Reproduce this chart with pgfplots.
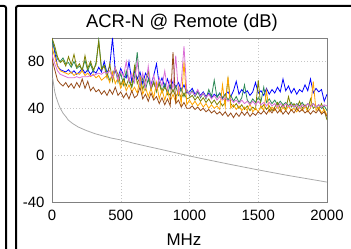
\documentclass[border=0pt]{standalone}
\usepackage{pgfplots}
\usepackage{pgfplotstable}
\pgfplotsset{compat=1.18}
\usepackage{fontspec}
\setmainfont{Liberation Sans}
\definecolor{cblue}{RGB}{0,0,255}
\definecolor{cgreen}{RGB}{46,139,87}
\definecolor{colive}{RGB}{128,128,0}
\definecolor{corange}{RGB}{255,165,0}
\definecolor{cviolet}{RGB}{218,112,214}
\definecolor{cbrown}{RGB}{150,75,25}
\definecolor{cgray}{RGB}{170,170,170}
\pgfplotstableread{
f blue green olive orange violet brown
0 100 98 100 92 86 82
20 88 90 93 84 78 73
40 76 82 84 76 72 64
60 73 80 79 72 69 61
80 72 83 81 71 68 59
100 71 78 76 70 67 62
120 73 79 84 69 66 58
140 70 75 77 71 66 61
160 72 80 86 68 66 57
180 69 74 75 70 67 62
200 71 76 78 69 66 58
220 74 73 72 72 67 65
240 70 81 85 68 67 57
260 73 72 74 70 67 63
280 69 78 80 67 68 55
300 72 71 73 69 68 58
320 70 79 77 66 69 54
340 75 98 97 68 70 56
360 71 74 73 64 69 52
380 80 77 76 66 71 55
400 70 70 66 68 70 51
420 76 64 78 62 72 56
440 100 68 63 71 66 52
460 72 75 74 61 75 58
480 66 62 69 66 64 51
500 74 70 60 57 72 54
520 68 60 65 63 67 49
540 66 72 59 55 80 53
560 80 63 66 60 63 48
580 63 58 58 54 70 55
600 72 66 76 58 62 49
620 65 88 61 53 80 51
640 71 59 67 66 60 58
660 61 66 56 52 70 48
680 70 56 64 58 58 52
700 66 65 72 50 76 46
720 60 57 56 57 58 53
740 68 63 62 49 68 47
760 78 54 55 62 57 50
780 60 62 61 48 66 44
800 66 55 53 56 59 49
820 58 61 58 47 72 43
840 65 52 54 55 56 48
860 57 60 51 46 64 42
880 63 54 56 52 57 88
900 58 59 50 45 85 44
920 62 51 54 58 53 47
940 55 57 49 44 62 41
960 60 50 53 80 93 45
980 53 56 48 43 55 40
1000 54 51 49 47 52 40
1020 57 55 51 43 54 42
1040 52 50 47 46 51 39
1060 55 54 50 42 56 41
1080 51 49 46 45 50 38
1100 54 53 49 41 53 40
1120 50 48 45 44 49 37
1140 53 56 48 40 52 39
1160 49 50 44 43 48 36
1180 52 64 47 40 51 38
1200 50 49 43 42 47 35
1220 53 53 46 39 50 37
1240 49 48 42 60 47 34
1260 52 52 45 41 49 37
1280 54 47 65 67 46 33
1300 50 51 44 40 48 36
1320 55 46 41 43 45 32
1340 63 50 44 39 47 36
1360 52 45 40 42 44 33
1380 56 49 43 38 47 37
1400 53 60 39 41 44 34
1420 55 47 42 38 46 37
1440 51 44 38 44 43 33
1460 54 48 41 37 46 36
1480 62 45 39 40 43 34
1500 53 49 64 37 46 37
1520 55 46 40 42 43 35
1540 51 58 43 38 45 38
1560 57 45 39 55 42 35
1580 52 48 42 37 45 39
1600 56 44 38 41 42 36
1620 53 47 41 38 44 40
1640 58 43 45 42 41 36
1660 54 46 40 37 44 39
1680 65 43 43 41 41 35
1700 55 45 39 38 44 38
1720 59 42 50 42 41 35
1740 53 45 41 38 43 39
1760 57 41 44 40 41 36
1780 52 44 40 37 43 40
1800 56 42 46 41 40 37
1820 54 45 40 38 43 39
1840 60 41 43 42 41 36
1860 55 44 39 37 44 38
1880 65 42 48 40 41 35
1900 53 44 40 63 44 38
1920 57 41 42 38 41 36
1940 54 43 39 41 43 39
1960 56 40 44 36 41 35
1980 46 42 38 39 43 37
2000 52 38 30 34 42 33
}\acrdata
\pgfplotstableread{
f v
5 66
10 62
20 54
30 49.5
46 44
60 40
82 35.5
100 33
118 30
150 27
191 24
250 21
313 18.3
375 16.3
434 14.5
500 13
600 10
700 7.3
800 4.7
900 2
1000 -0.7
1100 -3.2
1200 -5.6
1300 -8
1400 -10.3
1500 -12.6
1600 -14.8
1700 -17
1800 -19
1900 -21
2000 -23
}\limitdata
\begin{document}
\begin{tikzpicture}
\begin{axis}[
  at={(52bp,47bp)}, anchor=south west,
  scale only axis, width=275bp, height=164bp,
  xmin=0, xmax=2000, ymin=-40, ymax=100,
  xtick={0,500,1000,1500,2000},
  ytick={-40,0,40,80},
  grid=major,
  grid style={gray!45, dash pattern=on 1bp off 2bp},
  axis line style={gray},
  major tick length=0pt,
  tick label style={font=\fontsize{15}{15}\selectfont},
  /pgf/number format/assume math mode=true,
  /pgf/number format/1000 sep={},
  xticklabel style={yshift=-5bp},
  yticklabel style={xshift=-4bp},
  every axis plot/.append style={line width=0.8bp},
  clip=true,
]
\addplot[cblue, mark=none] table[x=f, y=blue] {\acrdata};
\addplot[cgreen, mark=none] table[x=f, y=green] {\acrdata};
\addplot[colive, mark=none] table[x=f, y=olive] {\acrdata};
\addplot[corange, mark=none] table[x=f, y=orange] {\acrdata};
\addplot[cviolet, mark=none] table[x=f, y=violet] {\acrdata};
\addplot[cbrown, mark=none] table[x=f, y=brown] {\acrdata};
\addplot[cgray, mark=none] table[x=f, y=v] {\limitdata};
\end{axis}
\node[anchor=base, font=\fontsize{18.5}{18.5}\selectfont] at (182bp,221bp) {ACR-N @ Remote (dB)};
\node[anchor=base, font=\fontsize{17}{17}\selectfont] at (184bp,4bp) {MHz};
\draw[line width=2bp, rounded corners=2bp] (-2bp,243bp) -- (6bp,243bp) -- (6bp,-3bp);
\draw[line width=2bp, rounded corners=2bp] (16bp,-3bp) -- (16bp,243bp) -- (356bp,243bp);
\pgfresetboundingbox
\useasboundingbox (0,0) rectangle (351bp,249bp);
\end{tikzpicture}
\end{document}
